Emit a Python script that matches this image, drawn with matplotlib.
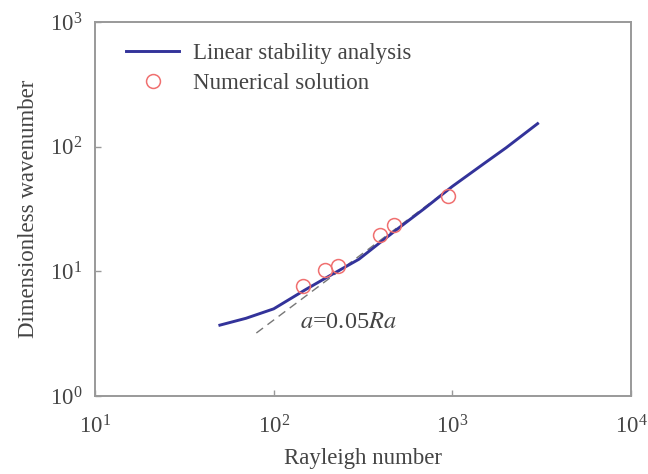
import numpy as np
import matplotlib.pyplot as plt

plt.rcParams['font.family'] = ['Liberation Serif', 'DejaVu Serif']
plt.rcParams['mathtext.fontset'] = 'stix'

# linear stability analysis curve
ra_lsa = [50, 70, 100, 150, 200, 300, 400, 500, 700, 1000, 1500, 2000, 3000]
a_lsa = [3.7, 4.2, 5.0, 7.1, 9.0, 12.5, 17.3, 22.2, 32, 48, 73, 98, 153]

# numerical solution
ra_num = [145, 195, 230, 393, 471, 942]
a_num = [7.6, 10.3, 11.1, 19.6, 23.5, 40.0]

# fitted trend a = 0.05Ra (as drawn)
ra_fit = [80, 1000]
a_fit = [3.2, 48]

txt = '#444444'
fs = 16.5
fig = plt.figure(figsize=(6.48, 4.74), dpi=100)
ax = fig.add_axes([0.1466, 0.1646, 0.8272, 0.789])

ax.plot(ra_fit, a_fit, ls=(0, (6, 4)), color='#777777', lw=1.0, zorder=1)
ax.plot(ra_lsa, a_lsa, color='#33339a', lw=2.1, label='Linear stability analysis', zorder=2)
ax.plot(ra_num, a_num, 'o', mfc='none', mec='#f07070', mew=1.1, ms=10,
        label='Numerical solution', zorder=3)

ax.set_xscale('log')
ax.set_yscale('log')
ax.set_xlim(10, 1e4)
ax.set_ylim(1, 1e3)
ax.minorticks_off()
ax.set_xticks([1e1, 1e2, 1e3, 1e4])
ax.set_yticks([1e0, 1e1, 1e2, 1e3])
ax.tick_params(direction='in', length=4, width=1, color='#999999',
               labelsize=fs, labelcolor=txt, top=False, right=False)
ax.tick_params(axis='x', pad=14)
ax.tick_params(axis='y', pad=9)
for s in ax.spines.values():
    s.set_color('#999999')
    s.set_linewidth(1.4)

ax.set_xlabel('Rayleigh number', fontsize=fs, color=txt, labelpad=7)
ax.set_ylabel('Dimensionless wavenumber', fontsize=fs, color=txt, labelpad=8)

ax.text(140, 3.9, r'$a$=0.05$Ra$', fontsize=fs + 1, color=txt, va='center', ha='left')

leg = ax.legend(loc='upper left', bbox_to_anchor=(0.02, 1.0), frameon=False,
                fontsize=fs, handlelength=2.3, handletextpad=0.6, labelspacing=0.4)
for t in leg.get_texts():
    t.set_color(txt)

fig.savefig('out.png', dpi=100)
